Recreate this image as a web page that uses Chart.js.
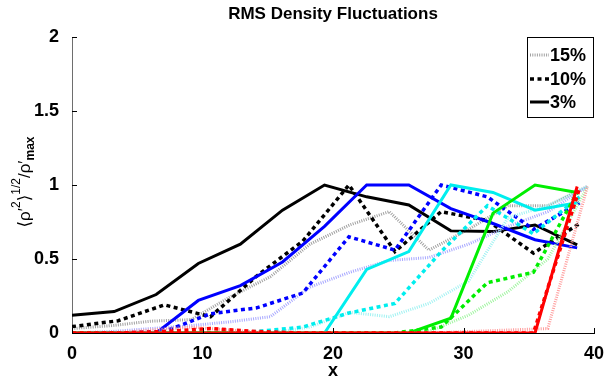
<!DOCTYPE html>
<html>
<head>
<meta charset="utf-8">
<script src="https://cdn.jsdelivr.net/npm/chart.js@4.4.0/dist/chart.umd.min.js"></script>
<style>
  html, body { margin: 0; background: #fff; }
  #wrap { width: 609px; height: 381px; }
</style>
</head>
<body>
<div id="wrap"><canvas id="chart"></canvas></div>
<script>
// sample positions (each line style was sampled on its own grid)
const xSolid  = [0, 3.23, 6.45, 9.68, 12.9, 16.13, 19.35, 22.58, 25.81, 29.03, 32.26, 35.48, 38.71];
const xDotted = [0, 3.54, 7.07, 10.61, 14.15, 17.68, 21.22, 24.75, 28.29, 31.83, 35.36, 38.9];
const xFine   = [0, 3.04, 6.08, 9.12, 12.15, 15.19, 18.23, 21.27, 24.31, 27.35, 30.38, 33.42, 36.46, 39.5];

// 3% (solid)
const blackSolid = [0.12, 0.145, 0.26, 0.47, 0.6, 0.83, 1.0, 0.92, 0.865, 0.69, 0.685, 0.73, 0.595];
const blueSolid  = [0, 0, 0, 0.22, 0.32, 0.48, 0.72, 1.0, 1.0, 0.84, 0.74, 0.63, 0.575];
const cyanSolid  = [0, 0, 0, 0, 0, 0, 0, 0.43, 0.55, 1.0, 0.95, 0.83, 0.88];
const greenSolid = [0, 0, 0, 0, 0, 0, 0, 0, 0, 0.1, 0.81, 1.0, 0.95];
const redSolid   = [0, 0, 0, 0, 0, 0, 0, 0, 0, 0, 0, 0, 0.99];

// 10% (dotted)
const blackDotted = [0.043, 0.083, 0.19, 0.11, 0.385, 0.62, 1.0, 0.55, 0.82, 0.76, 0.54, 0.74];
const blueDotted  = [0, 0, 0.01, 0.13, 0.17, 0.27, 0.65, 0.56, 1.0, 0.92, 0.7, 0.88];
const cyanDotted  = [0, 0, 0, 0, 0.01, 0.04, 0.135, 0.2, 0.55, 0.86, 0.67, 0.92];
const greenDotted = [0, 0, 0, 0, 0, 0, 0, 0, 0.04, 0.34, 0.41, 0.98];
const redDotted   = [0, 0, 0.01, 0.03, 0.01, 0, 0, 0, 0, 0, 0, 0.98];

// 15% (fine dotted)
const blackFine = [0.03, 0.05, 0.08, 0.09, 0.245, 0.38, 0.6, 0.73, 0.82, 0.56, 0.7, 0.86, 0.86, 0.99];
const blueFine  = [0, 0.01, 0.03, 0.05, 0.076, 0.11, 0.31, 0.41, 0.49, 0.51, 0.6, 0.72, 0.82, 0.99];
const cyanFine  = [0, 0, 0, 0, 0, 0, 0.04, 0.14, 0.11, 0.2, 0.35, 0.78, 0.86, 0.99];
const greenFine = [0, 0, 0, 0, 0, 0, 0, 0, 0, 0.01, 0.12, 0.28, 0.5, 0.99];
const redFine   = [0, 0, 0.02, 0.04, 0.02, 0, 0, 0, 0, 0, 0.01, 0.02, 0.03, 0.99];

const xTicks = [0, 10, 20, 30, 40];
const yTicks = [0, 0.5, 1, 1.5, 2];
const legendLabels = ["15%", "10%", "3%"];

const FONT = "'Liberation Sans', Arial, Helvetica, sans-serif";

const styles = {
  solid:  { borderWidth: 3, borderDash: [] },
  dotted: { borderWidth: 3.5, borderDash: [4, 3.5] },
  fine:   { borderWidth: 3, borderDash: [1, 1.3] }
};

function line(xs, ys, color, style) {
  return {
    data: xs.map((x, i) => ({ x: x, y: ys[i] })),
    borderColor: color,
    borderWidth: styles[style].borderWidth,
    borderDash: styles[style].borderDash,
    pointRadius: 0,
    fill: false,
    tension: 0
  };
}

// first dataset is drawn on top, so red goes first
const datasets = [
  line(xSolid, redSolid, "#ff0000", "solid"),
  line(xDotted, redDotted, "#ff0000", "dotted"),
  line(xFine, redFine, "#ff9c9c", "fine"),
  line(xSolid, greenSolid, "#00ee00", "solid"),
  line(xDotted, greenDotted, "#00ee00", "dotted"),
  line(xFine, greenFine, "#a0f5a0", "fine"),
  line(xSolid, cyanSolid, "#00eeee", "solid"),
  line(xDotted, cyanDotted, "#00eeee", "dotted"),
  line(xFine, cyanFine, "#a0f2f2", "fine"),
  line(xSolid, blueSolid, "#0000ff", "solid"),
  line(xDotted, blueDotted, "#0000ff", "dotted"),
  line(xFine, blueFine, "#a8a8ff", "fine"),
  line(xSolid, blackSolid, "#000000", "solid"),
  line(xDotted, blackDotted, "#000000", "dotted"),
  line(xFine, blackFine, "#a0a0a0", "fine")
];

// title, inward ticks, y label with super/subscripts, legend box
const decorations = {
  id: "decorations",
  afterDatasetsDraw(chart) {
    const { ctx, chartArea: a, scales: { x, y } } = chart;
    ctx.save();
    ctx.strokeStyle = "#000";
    ctx.lineWidth = 1;
    ctx.beginPath();
    xTicks.forEach(v => {
      const px = Math.round(x.getPixelForValue(v)) + 0.5;
      ctx.moveTo(px, a.bottom);
      ctx.lineTo(px, a.bottom - 5);
    });
    yTicks.forEach(v => {
      const py = Math.round(y.getPixelForValue(v)) + 0.5;
      ctx.moveTo(a.left, py);
      ctx.lineTo(a.left + 5, py);
    });
    ctx.stroke();
    ctx.restore();
  },
  afterDraw(chart) {
    const { ctx, chartArea: a } = chart;
    ctx.save();

    // title
    ctx.fillStyle = "#000";
    ctx.font = "bold 17px " + FONT;
    ctx.textAlign = "center";
    ctx.textBaseline = "middle";
    ctx.fillText("RMS Density Fluctuations", (a.left + a.right) / 2, 14);

    // y axis label, rotated
    const parts = [
      { t: "\u27E8", f: "17px " + FONT + ", 'DejaVu Sans'", dy: 0 },
      { t: "\u03C1\u2032", f: "17px " + FONT, dy: 0 },
      { t: "2", f: "12px " + FONT, dy: -10 },
      { t: "\u27E9", f: "17px " + FONT + ", 'DejaVu Sans'", dy: 0 },
      { t: "1/2", f: "12px " + FONT, dy: -10 },
      { t: "/", f: "17px " + FONT, dy: 0 },
      { t: "\u03C1\u2032", f: "17px " + FONT, dy: 0 },
      { t: "max", f: "bold 12px " + FONT, dy: 4 }
    ];
    let total = 0;
    parts.forEach(p => { ctx.font = p.f; p.w = ctx.measureText(p.t).width; total += p.w; });
    ctx.translate(30, 182);
    ctx.rotate(-Math.PI / 2);
    ctx.textAlign = "left";
    ctx.textBaseline = "alphabetic";
    let cx = -total / 2;
    parts.forEach(p => {
      ctx.font = p.f;
      ctx.fillText(p.t, cx, p.dy);
      cx += p.w;
    });
    ctx.setTransform(1, 0, 0, 1, 0, 0);

    // legend
    const bx = 527.5, by = 37.5, bw = 66, bh = 80;
    ctx.fillStyle = "#fff";
    ctx.fillRect(bx, by, bw, bh);
    ctx.strokeStyle = "#000";
    ctx.lineWidth = 1;
    ctx.strokeRect(bx, by, bw, bh);
    const rows = [
      { y: 55, color: "#a0a0a0", style: "fine" },
      { y: 79, color: "#000", style: "dotted" },
      { y: 102, color: "#000", style: "solid" }
    ];
    rows.forEach((r, i) => {
      ctx.beginPath();
      ctx.strokeStyle = r.color;
      ctx.lineWidth = styles[r.style].borderWidth;
      ctx.setLineDash(styles[r.style].borderDash);
      ctx.moveTo(530, r.y);
      ctx.lineTo(549, r.y);
      ctx.stroke();
      ctx.setLineDash([]);
      ctx.fillStyle = "#000";
      ctx.font = "bold 18px " + FONT;
      ctx.textAlign = "left";
      ctx.textBaseline = "middle";
      ctx.fillText(legendLabels[i], 550, r.y + 1);
    });
    ctx.restore();
  }
};

new Chart(document.getElementById("chart"), {
  type: "line",
  data: { datasets: datasets },
  options: {
    responsive: true,
    maintainAspectRatio: false,
    animation: false,
    layout: { padding: { top: 37, right: 15, left: 0, bottom: 0 } },
    plugins: { legend: { display: false }, tooltip: { enabled: false } },
    scales: {
      x: {
        type: "linear",
        min: 0, max: 40,
        afterFit: s => { s.height = 48; },
        ticks: { stepSize: 10, color: "#000", padding: 2, font: { family: FONT, size: 18, weight: "bold" }, maxRotation: 0 },
        grid: { display: false },
        border: { display: true, color: "#000", width: 1 },
        title: { display: true, text: "x", color: "#000", padding: { top: 0, bottom: -1 }, font: { family: FONT, size: 18, weight: "bold" } }
      },
      y: {
        type: "linear",
        min: 0, max: 2,
        afterFit: s => { s.width = 72; },
        ticks: { stepSize: 0.5, color: "#000", padding: 5, font: { family: FONT, size: 18, weight: "bold" }, callback: v => String(v) },
        grid: { display: false },
        border: { display: true, color: "#6e6e6e", width: 1 }
      }
    }
  },
  plugins: [decorations]
});
</script>
</body>
</html>
